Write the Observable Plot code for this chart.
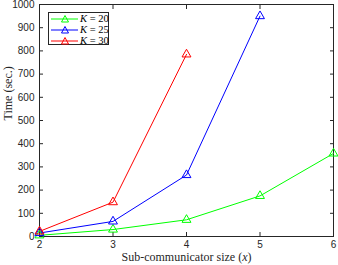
<!DOCTYPE html>
<html><head><meta charset="utf-8">
<script src="https://cdn.jsdelivr.net/npm/d3@7"></script>
<script src="https://cdn.jsdelivr.net/npm/@observablehq/plot@0.6"></script>
<style>
body{margin:0;background:#fff;}
#wrap{position:relative;width:338px;height:265px;}
#legend{position:absolute;left:48px;top:12px;width:61px;height:33px;border:1px solid #262626;background:#fff;box-sizing:border-box;font-family:"Liberation Serif",serif;font-size:10.5px;}
.row{position:absolute;left:0;height:10px;display:flex;align-items:center;white-space:nowrap;}
</style></head><body>
<div id="wrap"></div>
<script>
const sizes = [2, 3, 4, 5, 6];
const k20 = [5, 30, 72, 175, 358];
const k25 = [15, 65, 265, 950];
const k30 = [22, 148, 785];
const seriesNames = ["K = 20", "K = 25", "K = 30"];
const seriesColors = ["#00ff00", "#0000ff", "#ff0000"];
const xTicks = [2, 3, 4, 5, 6];
const yTicks = [0, 100, 200, 300, 400, 500, 600, 700, 800, 900, 1000];

const all = [k20, k25, k30];
const data = [];
all.forEach((vals, s) => vals.forEach((v, i) => data.push({x: sizes[i], y: v, s: seriesNames[s]})));

const chart = Plot.plot({
  width: 338, height: 265,
  marginLeft: 39, marginRight: 5, marginTop: 4, marginBottom: 29,
  style: {fontFamily: "Liberation Sans, Arial, sans-serif", fontSize: "10px", color: "#262626", background: "#fff"},
  x: {domain: [2, 6]},
  y: {domain: [0, 1000]},
  color: {domain: seriesNames, range: seriesColors},
  marks: [
    Plot.axisX({ticks: xTicks, tickSize: -4, tickPadding: 8, tickFormat: d => String(d), label: null, stroke: "#262626"}),
    Plot.axisX({ticks: xTicks, anchor: "top", tickSize: -4, text: null, label: null, stroke: "#262626"}),
    Plot.axisY({ticks: yTicks, tickSize: -4, tickPadding: 9, tickFormat: d => String(d), label: null, stroke: "#262626"}),
    Plot.axisY({ticks: yTicks, anchor: "right", tickSize: -4, text: null, label: null, stroke: "#262626"}),
    Plot.frame({stroke: "#262626"}),
    Plot.line(data, {x: "x", y: "y", z: "s", stroke: "s", strokeWidth: 1}),
    Plot.dot(data, {x: "x", y: "y", stroke: "s", symbol: "triangle", r: 3.3, fill: "none", strokeWidth: 1}),
    Plot.text(["Sub-communicator size (x)"], {frameAnchor: "bottom", dy: 24, text: d => d, fontFamily: "Liberation Serif, serif", fontSize: 12, fill: "#262626"}),
    Plot.text(["Time (sec.)"], {frameAnchor: "left", dx: -31, rotate: -90, text: d => d, fontFamily: "Liberation Serif, serif", fontSize: 12, fill: "#262626"})
  ]
});
document.getElementById("wrap").appendChild(chart);

// italicize variable in x label
chart.querySelectorAll("text").forEach(t => {
  if (t.textContent === "Sub-communicator size (x)") {
    t.innerHTML = 'Sub-communicator size (<tspan font-style="italic">x</tspan>)';
  }
});

const leg = document.createElement("div");
leg.id = "legend";
seriesNames.forEach((n, i) => {
  const row = document.createElement("div");
  row.className = "row";
  row.style.top = (i * 11 + 0.5) + "px";
  const c = seriesColors[i];
  row.innerHTML = `<svg width="30" height="10"><line x1="2" x2="29" y1="5" y2="5" stroke="${c}" stroke-width="1"/><path d="M16,1.5 L19.5,8 L12.5,8 Z" fill="none" stroke="${c}" stroke-width="1"/></svg><span style="margin-left:1px;color:#000"><i>K</i> = ${n.split("= ")[1]}</span>`;
  leg.appendChild(row);
});
document.getElementById("wrap").appendChild(leg);
</script>
</body></html>
